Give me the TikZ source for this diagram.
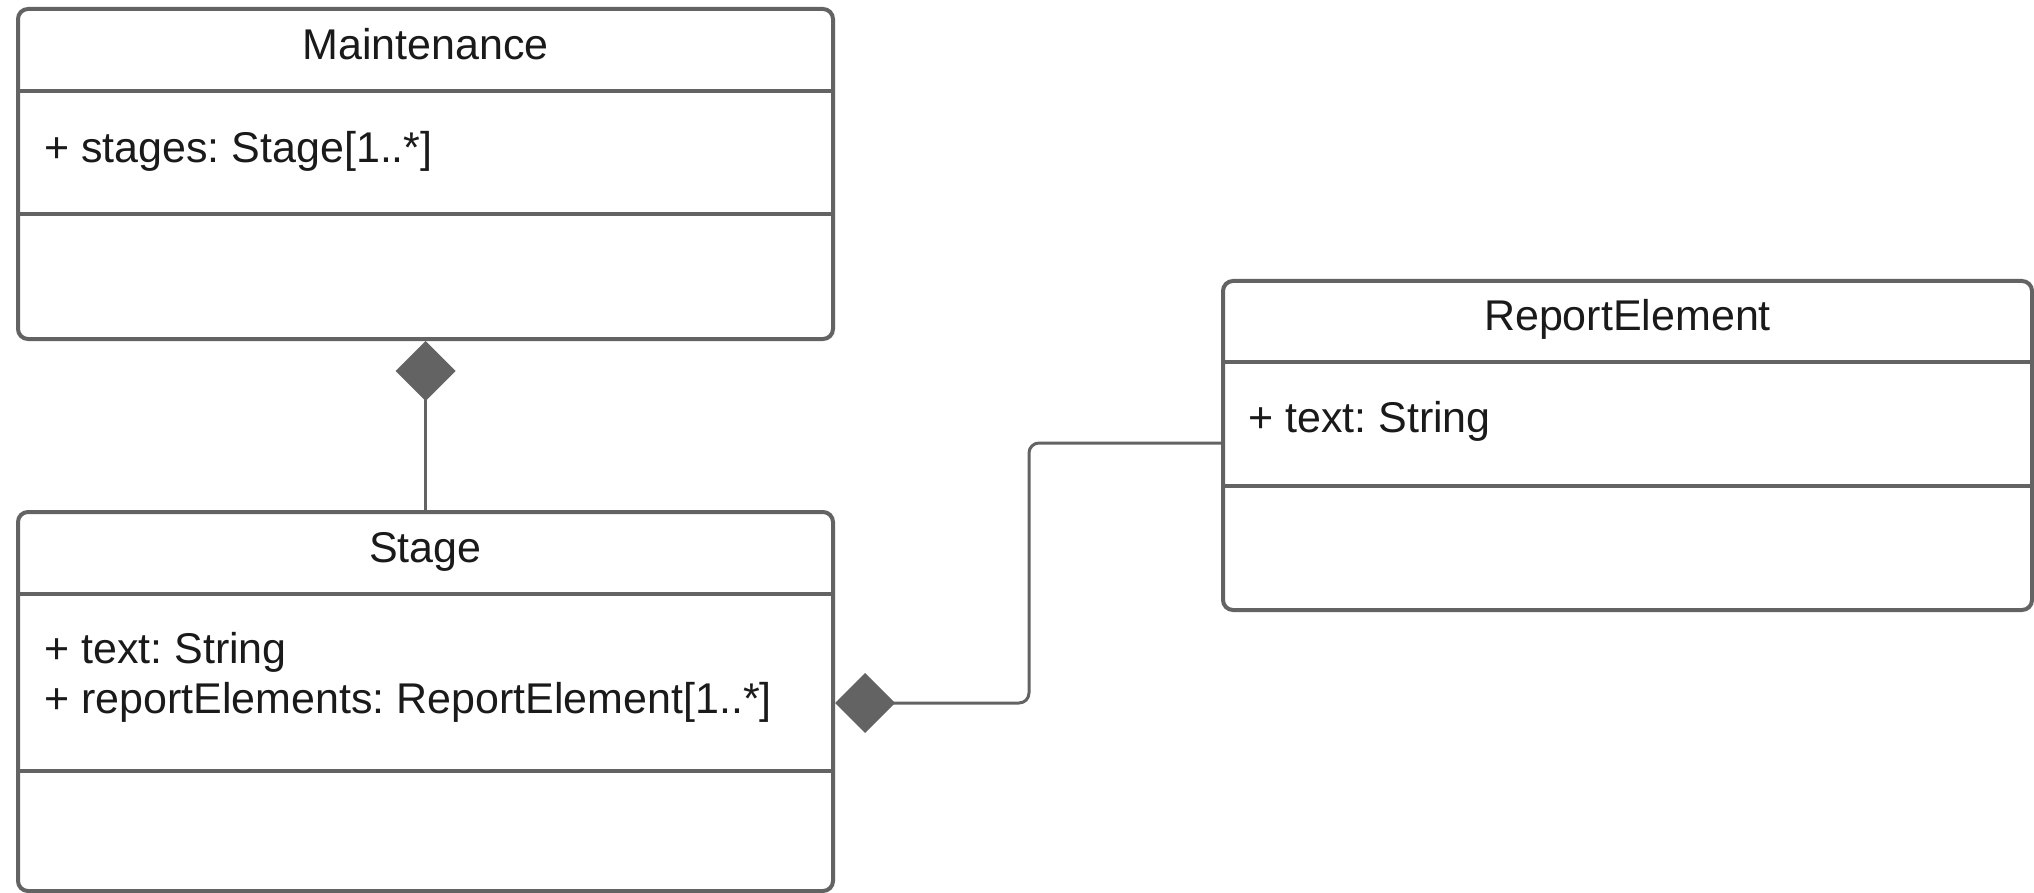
\documentclass[tikz,border=0pt]{standalone}
\usepackage{fontspec}
\setmainfont{Liberation Sans}
\frenchspacing
\usetikzlibrary{arrows.meta}
\definecolor{umlline}{HTML}{636363}
\definecolor{umltext}{HTML}{1A1A1A}
\tikzset{
  classbox/.style={draw=umlline, line width=4pt, rounded corners=10pt, fill=white, inner sep=0pt},
  divider/.style={draw=umlline, line width=4pt},
  title/.style={anchor=base, inner sep=0pt, text=umltext, font=\fontsize{43}{50}\selectfont},
  attr/.style={anchor=base west, inner sep=0pt, text=umltext, font=\fontsize{43}{50}\selectfont},
  compose/.style={draw=umlline, line width=3pt, rounded corners=10pt,
    -{Diamond[length=60pt, width=60pt, fill=umlline, line width=0pt]}}
}
\begin{document}
\begin{tikzpicture}[x=1pt, y=-1pt]
  \useasboundingbox (0,0) rectangle (2034,893);

  % class boxes
  \node[classbox, minimum width=815pt, minimum height=330pt] (m) at (425.5,174) {};
  \node[classbox, minimum width=815pt, minimum height=379pt] (st) at (425.5,701.5) {};
  \node[classbox, minimum width=809pt, minimum height=329pt] (re) at (1627.5,445.5) {};

  % compartments
  \draw[divider] (m.west |- 0,91) -- (m.east |- 0,91);
  \draw[divider] (m.west |- 0,214) -- (m.east |- 0,214);
  \draw[divider] (st.west |- 0,594) -- (st.east |- 0,594);
  \draw[divider] (st.west |- 0,771) -- (st.east |- 0,771);
  \draw[divider] (re.west |- 0,362) -- (re.east |- 0,362);
  \draw[divider] (re.west |- 0,486) -- (re.east |- 0,486);

  % names and attributes
  \node[title] (mname) at (425.5,60) {Maintenance};
  \node[attr] (matt) at (44,163) {+ stages: Stage[1..*]};

  \node[title] (stname) at (425.5,562) {Stage};
  \node[attr] (statt1) at (44,663) {+ text: String};
  \node[attr] (statt2) at (44,713) {+ reportElements: ReportElement[1..*]};

  \node[title] (rename) at (1627.5,330) {ReportElement};
  \node[attr] (reatt) at (1248,432) {+ text: String};

  % compositions
  \coordinate (stTop) at (st.north |- 0,512);
  \draw[compose] (stTop) -- (m.south);

  \coordinate (reLeft) at (re.west |- 0,443);
  \coordinate (bend) at (1029,443);
  \coordinate (stRight) at (st.east |- 0,703);
  \draw[compose] (reLeft) -- (bend) |- (stRight);
\end{tikzpicture}
\end{document}
